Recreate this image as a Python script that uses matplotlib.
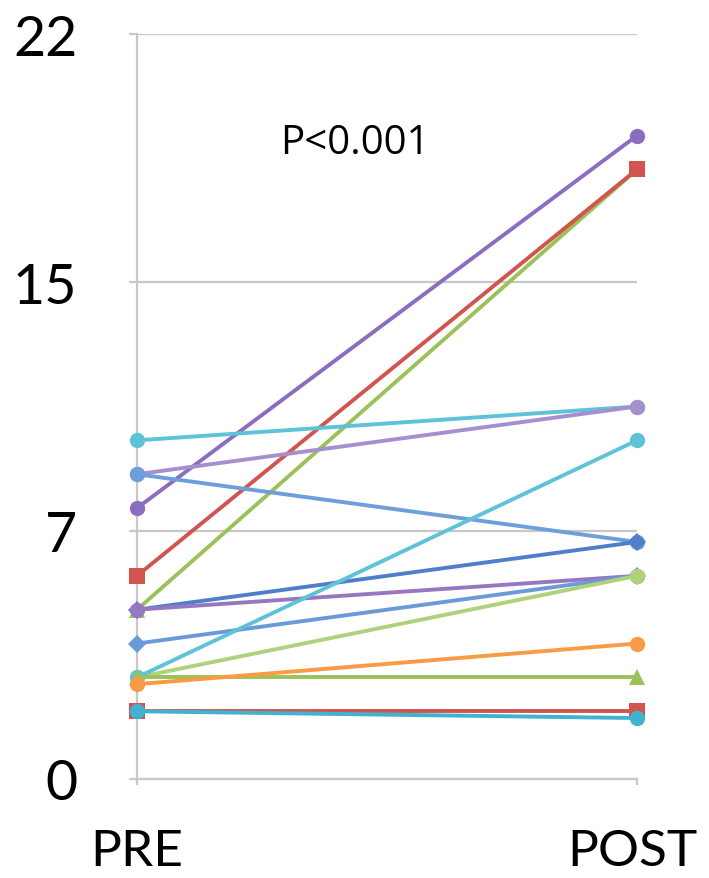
import matplotlib
matplotlib.use("Agg")
import matplotlib.pyplot as plt
import matplotlib.transforms as mtransforms

# ---- data ----
categories = ["PRE", "POST"]
pre_values = [8.0, 5.0, 6.0, 10.0, 9.0, 9.0, 5.0, 5.0, 4.0, 3.0, 3.0, 3.0, 2.8, 2.0, 2.0]
post_values = [19.0, 18.0, 18.0, 11.0, 11.0, 7.0, 7.0, 6.0, 6.0, 6.0, 10.0, 3.0, 4.0, 2.0, 1.8]
y_tick_values = [0, 22 / 3, 44 / 3, 22]
y_tick_labels = ["0", "7", "15", "22"]
annotation = "P<0.001"

# ---- styles ----
colors = ["#8B6DBF", "#9BC25A", "#D0554F", "#5EC2D8", "#A58FCF", "#6D9FDA",
          "#4F7FCB", "#9678C0", "#6A9BD8", "#B0D27A", "#5EC2D8", "#9BC25A",
          "#F99B45", "#D0554F", "#3FB3D0"]
markers = ["o", "^", "s", "o", "o", "o", "D", "o", "D", "o", "o", "^", "o", "s", "o"]

fig = plt.figure(figsize=(7.09, 8.79), dpi=100)
ax = fig.add_axes([137 / 709, 1 - 780 / 879, 500 / 709, 745 / 879])

xs = list(range(len(categories)))
for i in range(len(pre_values)):
    ax.plot(xs, [pre_values[i], post_values[i]], color=colors[i], lw=2.8,
            marker=markers[i], markersize=11 if markers[i] != "D" else 9,
            markeredgewidth=0, solid_capstyle="round", zorder=3 + i * 0.01,
            clip_on=False)

ax.set_xlim(0, 1)
ax.set_ylim(0, 22)
ax.set_yticks(y_tick_values)
ax.set_yticklabels(y_tick_labels, family="Lato", fontsize=40)
ax.set_xticks(xs)
ax.set_xticklabels([])

trans = mtransforms.blended_transform_factory(ax.transData, fig.transFigure)
label_x = [0.0, 0.99]
for xv, lab in zip(label_x, categories):
    ax.text(xv, 1 - 866 / 879, lab, transform=trans, ha="center", va="baseline",
            family="Lato", fontsize=37, color="black")

ax.grid(axis="y", color="#C8C8C8", lw=1.6, zorder=0)
for s in ["top", "right"]:
    ax.spines[s].set_visible(False)
for s in ["left", "bottom"]:
    ax.spines[s].set_color("#C8C8C8")
    ax.spines[s].set_linewidth(1.6)
ax.tick_params(axis="y", length=6, width=1.6, color="#C8C8C8", pad=37)
ax.tick_params(axis="x", length=4, width=1.6, color="#C8C8C8")
for lab in ax.get_yticklabels():
    lab.set_horizontalalignment("right")

ax.text(0.436, 18.8, annotation, ha="center", va="center", fontsize=29,
        family="Open Sans", color="black")

fig.savefig("out.png", dpi=100)
